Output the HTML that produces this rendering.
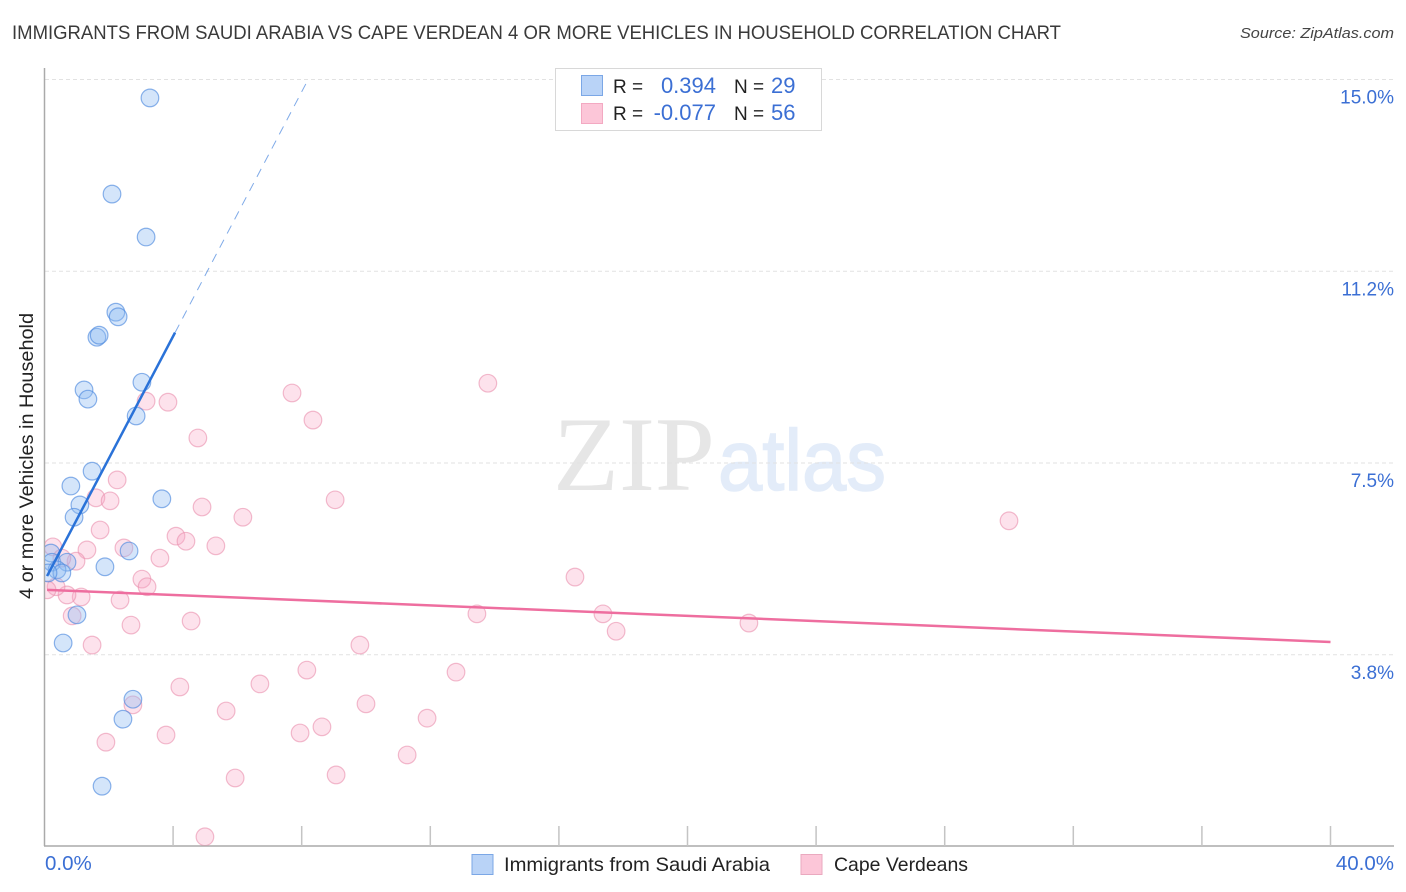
<!DOCTYPE html>
<html lang="en">
<head>
<meta charset="utf-8">
<title>Immigrants from Saudi Arabia vs Cape Verdean 4 or more Vehicles in Household Correlation Chart</title>
<style>
html,body{margin:0;padding:0;background:#fff;}
svg{display:block;font-family:"Liberation Sans",sans-serif;}
</style>
</head>
<body>
<svg id="chart" xmlns="http://www.w3.org/2000/svg" width="1406" height="892" viewBox="0 0 1406 892">
  <defs>
    <clipPath id="plot-clip"><rect x="45" y="60" width="1349" height="785.5"></rect></clipPath>
  </defs>
  <text x="12" y="39" font-size="19.5" fill="#3a3a3a" textLength="1049" lengthAdjust="spacingAndGlyphs">IMMIGRANTS FROM SAUDI ARABIA VS CAPE VERDEAN 4 OR MORE VEHICLES IN HOUSEHOLD CORRELATION CHART</text>
  <text x="1394" y="38" font-size="15" font-style="italic" fill="#444" text-anchor="end" textLength="154" lengthAdjust="spacingAndGlyphs">Source: ZipAtlas.com</text>

  <g>
    <text x="553" y="490" font-family="'Liberation Serif',serif" font-size="106" fill="#e6e6e6" textLength="162" lengthAdjust="spacingAndGlyphs">ZIP</text>
    <text x="718" y="490" font-size="86" fill="#e3ecf9" stroke="#e3ecf9" stroke-width="1.5" textLength="168" lengthAdjust="spacingAndGlyphs">atlas</text>
  </g>

  <g id="grid"></g>
  <g id="axes"></g>
  <g id="points" clip-path="url(#plot-clip)"></g>
  <g id="trends"></g>
  <g id="labels"></g>

  <text transform="translate(33,456) rotate(-90)" font-size="19" fill="#222" text-anchor="middle" textLength="286" lengthAdjust="spacingAndGlyphs">4 or more Vehicles in Household</text>

  <g>
    <rect x="555.5" y="68.5" width="266" height="62" fill="#fff" stroke="#d8d8d8" stroke-width="1"></rect>
    <rect x="581.5" y="75.5" width="21" height="20" fill="#b9d3f7" stroke="#7ba7e6" stroke-width="1"></rect>
    <rect x="581.5" y="103.5" width="21" height="20" fill="#fcc6d8" stroke="#f3a9c2" stroke-width="1"></rect>
    <text x="613" y="93" font-size="19" fill="#222">R =</text>
    <text x="716" y="93" font-size="22" fill="#3b6fd4" text-anchor="end">0.394</text>
    <text x="734" y="93" font-size="19" fill="#222">N =</text>
    <text x="771" y="93" font-size="22" fill="#3b6fd4">29</text>
    <text x="613" y="120" font-size="19" fill="#222">R =</text>
    <text x="716" y="120" font-size="22" fill="#3b6fd4" text-anchor="end">-0.077</text>
    <text x="734" y="120" font-size="19" fill="#222">N =</text>
    <text x="771" y="120" font-size="22" fill="#3b6fd4">56</text>
  </g>

  <g>
    <rect x="472" y="854.5" width="21" height="20" fill="#b9d3f7" stroke="#7ba7e6" stroke-width="1"></rect>
    <text x="504" y="871" font-size="19.5" fill="#222" textLength="266" lengthAdjust="spacingAndGlyphs">Immigrants from Saudi Arabia</text>
    <rect x="801" y="854.5" width="21" height="20" fill="#fcc6d8" stroke="#eaa9bf" stroke-width="1"></rect>
    <text x="834" y="871" font-size="19.5" fill="#222" textLength="134" lengthAdjust="spacingAndGlyphs">Cape Verdeans</text>
  </g>
</svg>
<script>
const saudiX = [3.28,2.10,3.16,2.22,2.29,1.63,1.70,1.23,1.35,3.03,2.85,1.48,0.82,3.65,1.10,0.92,2.63,1.88,0.58,1.01,2.75,2.44,1.79,0.20,0.23,0.70,0.39,0.54,0.11];
const saudiY = [14.64,12.76,11.92,10.45,10.36,9.96,10.00,8.93,8.75,9.08,8.42,7.34,7.05,6.80,6.68,6.44,5.78,5.47,3.98,4.53,2.88,2.49,1.18,5.74,5.56,5.56,5.41,5.35,5.35];
const capeX = [3.16,3.84,7.70,8.35,13.79,4.77,2.26,1.60,2.04,9.04,4.90,6.17,30.00,1.73,4.09,4.40,5.33,2.47,1.32,3.59,0.98,3.03,3.19,16.50,2.35,1.14,0.70,0.36,0.08,0.26,0.54,4.56,2.69,0.86,13.45,17.37,17.78,21.91,1.48,9.81,12.80,8.16,6.70,4.21,2.75,10.00,5.65,11.90,8.63,7.95,3.78,1.91,11.28,9.07,5.93,4.99];
const capeY = [8.71,8.69,8.87,8.34,9.06,7.99,7.17,6.82,6.76,6.78,6.64,6.44,6.37,6.19,6.07,5.97,5.88,5.84,5.80,5.64,5.58,5.23,5.08,5.27,4.82,4.88,4.92,5.08,5.02,5.86,5.64,4.41,4.33,4.51,4.55,4.55,4.21,4.37,3.94,3.94,3.41,3.45,3.18,3.12,2.77,2.79,2.65,2.51,2.34,2.22,2.18,2.04,1.79,1.40,1.34,0.19];
const saudiTrendX = [0.08,4.06,8.20];
const saudiTrendY = [5.29,10.05,15.00];
const capeTrendX = [0.08,40.00];
const capeTrendY = [5.02,4.00];
const yTickValues = [15,11.25,7.5,3.75];
const yTickLabels = ["15.0%","11.2%","7.5%","3.8%"];
const xTickValues = [4,8,12,16,20,24,28,32,36,40];
const xEndLabels = ["0.0%","40.0%"];

const NS = "http://www.w3.org/2000/svg";
function sx(v){ return 44.5 + v * 32.15; }
function sy(v){ return 846.5 - v * 51.13; }
function make(parent, tag, attrs){
  const el = document.createElementNS(NS, tag);
  for (const k in attrs) el.setAttribute(k, attrs[k]);
  parent.appendChild(el);
  return el;
}
const grid = document.getElementById("grid");
const axes = document.getElementById("axes");
const points = document.getElementById("points");
const trends = document.getElementById("trends");
const labels = document.getElementById("labels");

yTickValues.forEach(function(v, i){
  const g = make(grid, "line", {x1:45, x2:1394, y1:sy(v), y2:sy(v), stroke:"#e2e2e2", "stroke-width":1, "stroke-dasharray":"4 3"});
  
  
  const t = make(labels, "text", {x:1394, y:sy(v)+24, "font-size":19, fill:"#3b6fd4", "text-anchor":"end"});
  t.textContent = yTickLabels[i];
  
  
});

const yAxis = make(axes, "line", {x1:44.5, x2:44.5, y1:68, y2:846, stroke:"#aaa", "stroke-width":1.5});


const xAxis = make(axes, "line", {x1:44, x2:1394, y1:846, y2:846, stroke:"#aaa", "stroke-width":1.5});


xTickValues.forEach(function(v){
  const t = make(axes, "line", {x1:sx(v), x2:sx(v), y1:826, y2:846, stroke:"#c4c4c4", "stroke-width":1.5});
  
  
});
const xStart = make(labels, "text", {x:45, y:870, "font-size":20.5, fill:"#3b6fd4"});
xStart.textContent = xEndLabels[0];


const xEnd = make(labels, "text", {x:1394, y:870, "font-size":20.5, fill:"#3b6fd4", "text-anchor":"end"});
xEnd.textContent = xEndLabels[1];



capeX.forEach(function(v, i){
  const c = make(points, "circle", {cx:sx(v), cy:sy(capeY[i]), r:8.8, fill:"#f9a8c4", "fill-opacity":0.33, stroke:"#ea8fae", "stroke-opacity":0.6, "stroke-width":1.2});
  
  
});
saudiX.forEach(function(v, i){
  const c = make(points, "circle", {cx:sx(v), cy:sy(saudiY[i]), r:8.8, fill:"#8dbaf2", "fill-opacity":0.38, stroke:"#4f8ade", "stroke-opacity":0.65, "stroke-width":1.2});
  
  
});

const saudiSolid = make(trends, "line", {x1:sx(saudiTrendX[0]), y1:sy(saudiTrendY[0]), x2:sx(saudiTrendX[1]), y2:sy(saudiTrendY[1]), stroke:"#2a72d8", "stroke-width":2.5});


const saudiDash = make(trends, "line", {x1:sx(saudiTrendX[1]), y1:sy(saudiTrendY[1]), x2:sx(saudiTrendX[2]), y2:sy(saudiTrendY[2]), stroke:"#2a72d8", "stroke-opacity":0.6, "stroke-width":1, "stroke-dasharray":"9 7"});


const capeLine = make(trends, "line", {x1:sx(capeTrendX[0]), y1:sy(capeTrendY[0]), x2:sx(capeTrendX[1]), y2:sy(capeTrendY[1]), stroke:"#ee6e9f", "stroke-width":2.5});


</script>
</body>
</html>
